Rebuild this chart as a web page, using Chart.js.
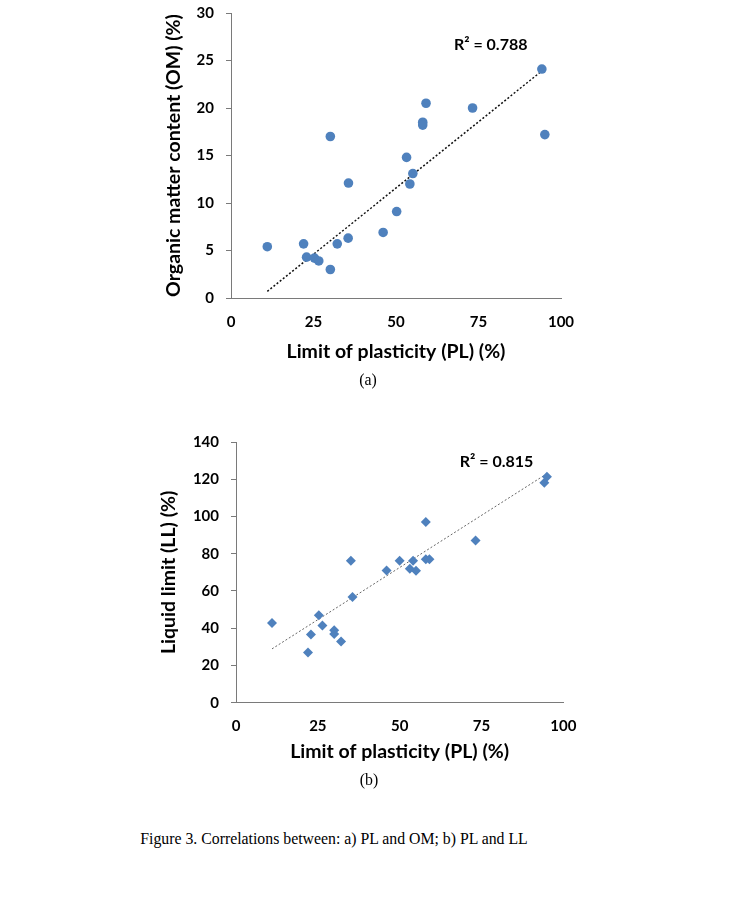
<!doctype html>
<html lang="en">
  <head>
    <meta charset="UTF-8" />
    <title>Figure 3 | PL x OM, PL x LL</title>
    <script src="https://cdn.jsdelivr.net/npm/chart.js"></script>
    <style>
      body { margin: 0; background: #fff; }
      .page { position: relative; width: 753px; height: 911px; overflow: hidden; }
      .box { position: absolute; left: 0; width: 753px; }
      /* y axis keeps 21px above the top tick, so the canvases start a bit higher */
      #boxA { top: -8px; height: 380px; }
      #boxB { top: 421px; height: 349px; }
      .caption {
        position: absolute;
        font-family: "Liberation Serif", "Times New Roman", serif;
        font-size: 15.8px;
        color: #000;
        white-space: nowrap;
        transform: translate(-50%, -50%);
      }
    </style>
  </head>

  <body>
    <div class="page">
      <div class="box" id="boxA"><canvas id="chartA" width="753" height="380"></canvas></div>
      <div class="caption" style="left: 368px; top: 380px">(a)</div>
      <div class="box" id="boxB"><canvas id="chartB" width="753" height="349"></canvas></div>
      <div class="caption" style="left: 369px; top: 780px">(b)</div>
      <div class="caption" style="left: 334px; top: 839px">Figure 3. Correlations between: a) PL and OM; b) PL and LL</div>
    </div>

    <script>
      // (a) limit of plasticity vs organic matter
      const plA = [94.2, 95.1, 73.2, 59.1, 58.1, 58.1, 30.1, 53.2, 55.1, 54.2, 35.6, 50.2, 46.1, 35.5, 32.2, 22.0, 11.0, 22.9, 25.3, 26.6, 30.1];
      const omA = [24.1, 17.2, 20.0, 20.5, 18.5, 18.2, 17.0, 14.8, 13.1, 12.0, 12.1, 9.1, 6.9, 6.3, 5.7, 5.7, 5.4, 4.3, 4.2, 3.9, 3.0];
      const trendXA = [11.0, 94.2];
      const trendYA = [0.7, 23.9];
      const r2A = "R² = 0.788";

      // (b) limit of plasticity vs liquid limit
      const plB = [95.0, 94.2, 58.0, 73.2, 35.1, 50.0, 54.1, 58.0, 59.1, 46.0, 53.1, 55.0, 35.6, 11.0, 25.3, 26.4, 22.9, 30.0, 30.0, 32.1, 22.0];
      const llB = [121.3, 118.1, 97.0, 87.1, 76.2, 76.2, 76.2, 77.1, 77.1, 71.0, 71.9, 70.8, 56.7, 42.8, 47.0, 41.4, 36.6, 38.9, 36.9, 32.8, 26.9];
      const trendXB = [11.0, 95.0];
      const trendYB = [28.9, 123.0];
      const r2B = "R² = 0.815";

      // tick labels
      const xTicks = [0, 25, 50, 75, 100];
      const yTicksA = [0, 5, 10, 15, 20, 25, 30];
      const yTicksB = [0, 20, 40, 60, 80, 100, 120, 140];

      const blue = "#4f81bd";
      const axisGray = "#7a7a7a";
      const fontFam = "Lato, 'Open Sans', sans-serif";

      function pares(xs, ys) {
        return xs.map((x, i) => ({ x: x, y: ys[i] }));
      }

      // R² text placed in data coordinates
      const r2Text = {
        id: "r2Text",
        afterDatasetsDraw(chart, args, opts) {
          const { ctx, scales } = chart;
          ctx.save();
          ctx.font = "bold 16px " + fontFam;
          ctx.fillStyle = "#000";
          ctx.textAlign = "center";
          ctx.textBaseline = "middle";
          ctx.fillText(opts.text, scales.x.getPixelForValue(opts.x), scales.y.getPixelForValue(opts.y));
          ctx.restore();
        },
      };

      function xScale(height, tickPad, titlePad) {
        return {
          type: "linear",
          min: xTicks[0],
          max: xTicks[xTicks.length - 1],
          afterBuildTicks: (s) => { s.ticks = xTicks.map((v) => ({ value: v })); },
          afterFit: (s) => { s.height = height; },
          grid: { display: false, drawTicks: false },
          border: { display: true, color: axisGray, width: 1 },
          ticks: { color: "#000", padding: tickPad, font: { family: fontFam, size: 15, weight: "bold" } },
          title: {
            display: true,
            text: "Limit of plasticity (PL) (%)",
            color: "#000",
            padding: { top: 0, bottom: titlePad },
            font: { family: fontFam, size: 19.5, weight: "bold" },
          },
        };
      }

      function yScale(ticks, width, label, titlePad) {
        return {
          type: "linear",
          min: ticks[0],
          max: ticks[ticks.length - 1],
          afterBuildTicks: (s) => { s.ticks = ticks.map((v) => ({ value: v })); },
          afterFit: (s) => { s.width = width; },
          grid: { drawOnChartArea: false, drawTicks: true, tickLength: 5, color: axisGray },
          border: { display: true, color: axisGray, width: 1 },
          ticks: { color: "#000", padding: 12, font: { family: fontFam, size: 15, weight: "bold" } },
          title: {
            display: true,
            text: label,
            color: "#000",
            padding: { top: titlePad, bottom: 0 },
            font: { family: fontFam, size: 19.5, weight: "bold" },
          },
        };
      }

      const configA = {
        type: "scatter",
        data: {
          datasets: [
            {
              label: "OM",
              data: pares(plA, omA),
              pointStyle: "circle",
              pointRadius: 4.8,
              backgroundColor: blue,
              borderColor: blue,
              borderWidth: 0,
            },
            {
              type: "line",
              label: "trend",
              data: pares(trendXA, trendYA),
              borderColor: "#111",
              borderWidth: 1.5,
              borderDash: [2, 2],
              pointRadius: 0,
              fill: false,
            },
          ],
        },
        options: {
          responsive: false,
          animation: false,
          layout: { padding: { left: 150, right: 192, top: 0, bottom: 0 } },
          plugins: {
            legend: { display: false },
            tooltip: { enabled: false },
            r2Text: { text: r2A, x: 78.7, y: 26.6 },
          },
          scales: {
            x: xScale(74, 15, 8.5),
            y: yScale(yTicksA, 81, "Organic matter content (OM) (%)", 12.3),
          },
        },
        plugins: [r2Text],
      };

      const configB = {
        type: "scatter",
        data: {
          datasets: [
            {
              label: "LL",
              data: pares(plB, llB),
              pointStyle: "rectRot",
              pointRadius: 5,
              backgroundColor: blue,
              borderColor: blue,
              borderWidth: 0,
            },
            {
              type: "line",
              label: "trend",
              data: pares(trendXB, trendYB),
              borderColor: "#666",
              borderWidth: 1,
              borderDash: [2, 2],
              pointRadius: 0,
              fill: false,
            },
          ],
        },
        options: {
          responsive: false,
          animation: false,
          layout: { padding: { left: 150, right: 189.7, top: 0, bottom: 0 } },
          plugins: {
            legend: { display: false },
            tooltip: { enabled: false },
            r2Text: { text: r2B, x: 79.6, y: 129.4 },
          },
          scales: {
            x: xScale(67.3, 14, 6.5),
            y: yScale(yTicksB, 86, "Liquid limit (LL) (%)", 7.3),
          },
        },
        plugins: [r2Text],
      };

      new Chart(document.getElementById("chartA"), configA);
      new Chart(document.getElementById("chartB"), configB);
    </script>
  </body>
</html>
